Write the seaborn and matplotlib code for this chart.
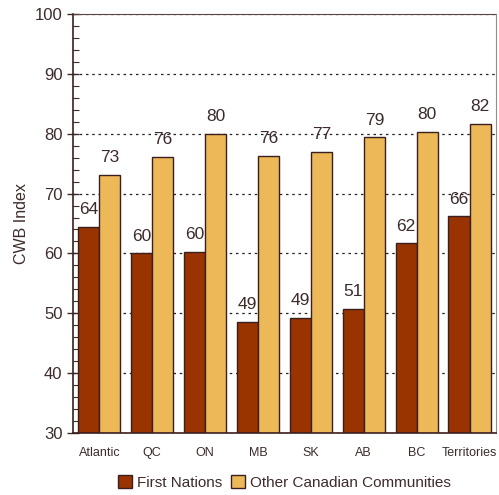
import pandas as pd
import seaborn as sns
import matplotlib.pyplot as plt
from matplotlib.ticker import MultipleLocator

regions = ['Atlantic', 'QC', 'ON', 'MB', 'SK', 'AB', 'BC', 'Territories']
first_nations = [64.4, 60.0, 60.3, 48.6, 49.2, 50.8, 61.7, 66.2]
other_communities = [73.1, 76.1, 80.0, 76.3, 77.0, 79.4, 80.3, 81.6]
series = ['First Nations', 'Other Canadian Communities']

data = pd.DataFrame({
    'region': regions * 2,
    'group': [series[0]] * len(regions) + [series[1]] * len(regions),
    'val': first_nations + other_communities,
})

sns.set_style("white")
plt.rcParams['font.family'] = ['Liberation Sans', 'DejaVu Sans']
txt = '#3d2b2b'

fig, ax = plt.subplots(figsize=(4.99, 4.95), dpi=100)
fig.subplots_adjust(left=0.146, right=0.994, top=0.972, bottom=0.125)

sns.barplot(x='region', y='val', hue='group', data=data,
            palette=['#993300', '#EDB858'], edgecolor='#3b1f1f', linewidth=1,
            saturation=1, ax=ax, legend=True)

ax.set_ylim(30, 100)
ax.set_xlim(-0.5, 7.5)
ax.yaxis.set_major_locator(MultipleLocator(10))
ax.yaxis.set_minor_locator(MultipleLocator(2))
ax.tick_params(axis='y', which='major', direction='inout', length=8, width=1,
               color=txt, labelsize=12, labelcolor=txt, left=True)
ax.tick_params(axis='y', which='minor', direction='in', length=4, width=0.8,
               color=txt, left=True)
ax.tick_params(axis='x', length=0, labelsize=9, labelcolor=txt, pad=10)
ax.set_xlabel('')
ax.set_ylabel('CWB Index', fontsize=11.5, color=txt, labelpad=4)

ax.grid(axis='y', linestyle=(0, (2, 3)), color='#222222', linewidth=0.9)
ax.set_axisbelow(True)
for s in ['left', 'bottom']:
    ax.spines[s].set_color('#3b1f1f')
    ax.spines[s].set_linewidth(1.2)
ax.spines['top'].set_color('#5a4545')
ax.spines['top'].set_linestyle((0, (2, 1)))
ax.spines['right'].set_color('#9a8a8a')

for c in ax.containers:
    ax.bar_label(c, fmt='%.0f', padding=7, fontsize=12.5, color=txt)

ax.legend(loc='upper center', bbox_to_anchor=(0.5, -0.068), ncol=2,
          frameon=False, fontsize=11, handlelength=0.9, handleheight=0.9,
          handletextpad=0.3, columnspacing=0.6, labelcolor=txt)

plt.savefig('out.png', dpi=100)
